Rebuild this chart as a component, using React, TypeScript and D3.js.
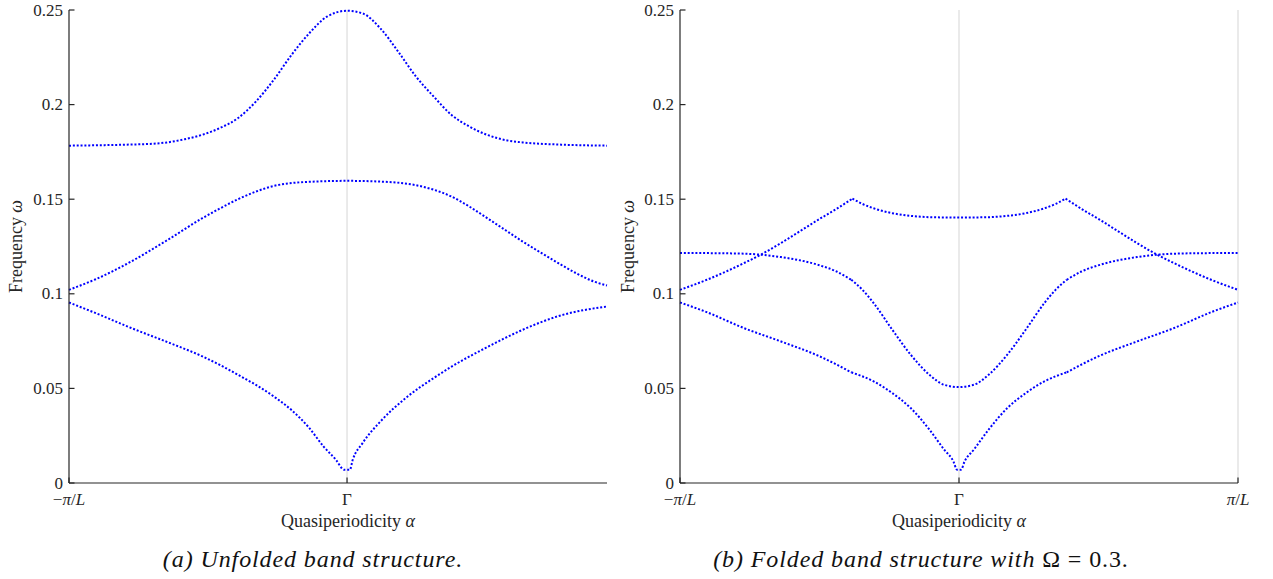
import React from "react";
import * as d3 from "d3";

// ---------- data (alpha in units of pi/L, Gamma = 0) ----------
const yTicks = [0, 0.05, 0.1, 0.15, 0.2, 0.25];
const yTickLabels = ["0", "0.05", "0.1", "0.15", "0.2", "0.25"];

// Panel (a): unfolded band structure
const alphaA1 = [-1, -0.904, -0.776, -0.648, -0.52, -0.392, -0.264, -0.2, -0.136, -0.085, -0.04, -0.01, 0.01, 0.0205, 0.056, 0.12, 0.216, 0.312, 0.376, 0.504, 0.632, 0.76, 0.935];
const freqA1 = [0.0954, 0.0898, 0.0819, 0.0746, 0.0669, 0.0572, 0.0458, 0.0386, 0.0291, 0.0194, 0.0123, 0.007, 0.007, 0.0123, 0.0211, 0.0325, 0.0455, 0.0555, 0.0615, 0.0718, 0.081, 0.0882, 0.0933];

const alphaA2 = [-1, -0.904, -0.776, -0.648, -0.52, -0.456, -0.392, -0.328, -0.264, -0.136, 0, 0.12, 0.248, 0.312, 0.376, 0.44, 0.504, 0.568, 0.632, 0.696, 0.76, 0.824, 0.888, 0.935];
const freqA2 = [0.1021, 0.1077, 0.1171, 0.1282, 0.14, 0.1452, 0.15, 0.154, 0.157, 0.1592, 0.1597, 0.1593, 0.1574, 0.155, 0.1514, 0.1461, 0.14, 0.1338, 0.1276, 0.1218, 0.1162, 0.1109, 0.1065, 0.1044];

const alphaA3 = [-1, -0.776, -0.712, -0.648, -0.584, -0.52, -0.456, -0.392, -0.328, -0.264, -0.2, -0.136, -0.072, 0, 0.056, 0.12, 0.184, 0.248, 0.312, 0.376, 0.44, 0.504, 0.568, 0.632, 0.76, 0.935];
const freqA3 = [0.1783, 0.1789, 0.1792, 0.18, 0.1817, 0.1841, 0.1877, 0.1929, 0.2016, 0.213, 0.2262, 0.2377, 0.2465, 0.2496, 0.2482, 0.2403, 0.228, 0.2148, 0.2042, 0.1945, 0.1884, 0.184, 0.1813, 0.18, 0.1789, 0.1783];

// Panel (b): folded band structure, Omega = 0.3
const alphaB1 = [-1, -0.904, -0.771, -0.638, -0.505, -0.386, -0.306, -0.239, -0.173, -0.106, -0.053, -0.02, -0.007, 0.007, 0.02, 0.053, 0.106, 0.173, 0.239, 0.306, 0.386, 0.505, 0.638, 0.771, 0.904, 1];
const freqB1 = [0.0954, 0.0903, 0.0819, 0.0748, 0.0673, 0.0585, 0.0537, 0.0475, 0.0396, 0.0282, 0.0176, 0.0114, 0.007, 0.007, 0.0114, 0.0176, 0.0282, 0.0396, 0.0475, 0.0537, 0.0585, 0.0673, 0.0748, 0.0819, 0.0903, 0.0954];
const kinksB1 = [-0.386, 0.386];

const alphaB2 = [-1, -0.904, -0.771, -0.705, -0.638, -0.505, -0.439, -0.386, -0.346, -0.306, -0.239, -0.173, -0.106, -0.053, 0, 0.053, 0.106, 0.173, 0.239, 0.306, 0.346, 0.386, 0.439, 0.505, 0.638, 0.705, 0.771, 0.904, 1];
const freqB2 = [0.1215, 0.1215, 0.1212, 0.1206, 0.1194, 0.1153, 0.1118, 0.1074, 0.1021, 0.0951, 0.081, 0.0678, 0.0572, 0.0519, 0.0507, 0.0519, 0.0572, 0.0678, 0.081, 0.0951, 0.1021, 0.1074, 0.1118, 0.1153, 0.1194, 0.1206, 0.1212, 0.1215, 0.1215];
const kinksB2 = [-0.386, 0.386];

const alphaB3 = [-1, -0.904, -0.771, -0.705, -0.638, -0.572, -0.505, -0.439, -0.382, -0.346, -0.306, -0.239, -0.173, -0.106, 0, 0.106, 0.173, 0.239, 0.306, 0.346, 0.382, 0.439, 0.505, 0.572, 0.638, 0.705, 0.771, 0.904, 1];
const freqB3 = [0.1021, 0.1074, 0.1162, 0.1211, 0.1268, 0.1329, 0.1391, 0.1449, 0.1503, 0.1475, 0.1452, 0.1426, 0.1412, 0.1405, 0.1403, 0.1405, 0.1412, 0.1426, 0.1452, 0.1475, 0.1503, 0.1449, 0.1391, 0.1329, 0.1268, 0.1211, 0.1162, 0.1074, 0.1021];
const kinksB3 = [-0.382, 0.382];

type Band = { alpha: number[]; freq: number[]; kinks?: number[] };

const bandsA: Band[] = [
  { alpha: alphaA1, freq: freqA1 },
  { alpha: alphaA2, freq: freqA2 },
  { alpha: alphaA3, freq: freqA3 },
];
const bandsB: Band[] = [
  { alpha: alphaB1, freq: freqB1, kinks: kinksB1 },
  { alpha: alphaB2, freq: freqB2, kinks: kinksB2 },
  { alpha: alphaB3, freq: freqB3, kinks: kinksB3 },
];

const FONT = "Liberation Serif, Times New Roman, DejaVu Serif, serif";
const AX = "#262626";

function splitAtKinks(pts: [number, number][], kinks?: number[]) {
  if (!kinks || kinks.length === 0) return [pts];
  const segs: [number, number][][] = [];
  let cur: [number, number][] = [];
  pts.forEach((p) => {
    cur.push(p);
    if (cur.length > 1 && kinks.some((k) => Math.abs(k - p[0]) < 1e-9)) {
      segs.push(cur);
      cur = [p];
    }
  });
  if (cur.length > 1) segs.push(cur);
  return segs;
}

function PiL({ neg }: { neg: boolean }) {
  return (
    <>
      {neg ? <tspan>−</tspan> : null}
      <tspan style={{ fontStyle: "italic" }}>π</tspan>
      <tspan>/</tspan>
      <tspan style={{ fontStyle: "italic" }}>L</tspan>
    </>
  );
}

type PanelProps = {
  x0: number;
  x1: number;
  domainMax: number;
  bands: Band[];
  xTicks: number[];
  xTickKinds: string[];
  xLabelX: number;
  yLabelX: number;
};

function Panel({ x0, x1, domainMax, bands, xTicks, xTickKinds, xLabelX, yLabelX }: PanelProps) {
  const yTop = 10;
  const yBot = 483;
  const x = d3.scaleLinear().domain([-1, domainMax]).range([x0, x1]);
  const y = d3.scaleLinear().domain([0, 0.25]).range([yBot, yTop]);
  const line = d3
    .line<[number, number]>()
    .x((d) => x(d[0]))
    .y((d) => y(d[1]))
    .curve(d3.curveMonotoneX);

  return (
    <g>
      {xTicks
        .filter((t) => t !== -1)
        .map((t) => (
          <line key={"g" + t} x1={x(t)} x2={x(t)} y1={yTop} y2={yBot} stroke="#e3e3e3" strokeWidth={1.5} />
        ))}
      {bands.map((b, i) => {
        const pts: [number, number][] = b.alpha.map((a, j) => [a, b.freq[j]]);
        return splitAtKinks(pts, b.kinks).map((seg, k) => (
          <path
            key={"b" + i + "_" + k}
            d={line(seg) || ""}
            fill="none"
            stroke="#0000ff"
            strokeWidth={2}
            strokeDasharray="2 1.85"
          />
        ));
      })}
      <line x1={x0} x2={x0} y1={yTop} y2={yBot} stroke={AX} strokeWidth={1.2} />
      <line x1={x0} x2={x1} y1={yBot} y2={yBot} stroke={AX} strokeWidth={1.2} />
      {yTicks.map((t, i) => (
        <g key={"yt" + t}>
          <line x1={x0} x2={x0 + 5.5} y1={y(t)} y2={y(t)} stroke={AX} strokeWidth={1.2} />
          <text x={x0 - 6} y={y(t) + 5.5} textAnchor="end" fontSize={17} fill={AX}>
            {yTickLabels[i]}
          </text>
        </g>
      ))}
      {xTicks.map((t, i) => (
        <g key={"xt" + t}>
          <line x1={x(t)} x2={x(t)} y1={yBot} y2={yBot - 5.5} stroke={AX} strokeWidth={1.2} />
          <text x={x(t)} y={505} textAnchor="middle" fontSize={17} fill={AX}>
            {xTickKinds[i] === "neg" ? <PiL neg={true} /> : xTickKinds[i] === "pos" ? <PiL neg={false} /> : "Γ"}
          </text>
        </g>
      ))}
      <text x={xLabelX} y={527} textAnchor="middle" fontSize={18} fill={AX}>
        Quasiperiodicity <tspan style={{ fontStyle: "italic" }}>α</tspan>
      </text>
      <text
        transform={`translate(${yLabelX},${(yTop + yBot) / 2}) rotate(-90)`}
        textAnchor="middle"
        fontSize={18}
        fill={AX}
      >
        Frequency <tspan style={{ fontStyle: "italic" }}>ω</tspan>
      </text>
    </g>
  );
}

export default function App() {
  return (
    <svg
      width={1273}
      height={579}
      style={{ position: "absolute", left: 0, top: 0, background: "#fff", fontFamily: FONT }}
    >
      <rect width={1273} height={579} fill="#fff" />
      <Panel
        x0={69}
        x1={607}
        domainMax={0.935}
        bands={bandsA}
        xTicks={[-1, 0]}
        xTickKinds={["neg", "gamma"]}
        xLabelX={348}
        yLabelX={22}
      />
      <Panel
        x0={680}
        x1={1238}
        domainMax={1}
        bands={bandsB}
        xTicks={[-1, 0, 1]}
        xTickKinds={["neg", "gamma", "pos"]}
        xLabelX={959}
        yLabelX={634}
      />
      <text x={313} y={567} textAnchor="middle" fontSize={24} letterSpacing={0.9} fill="#111" style={{ fontStyle: "italic" }}>
        (a) Unfolded band structure.
      </text>
      <text x={921} y={567} textAnchor="middle" fontSize={24} letterSpacing={0.9} fill="#111">
        <tspan style={{ fontStyle: "italic" }}>(b) Folded band structure with </tspan>
        <tspan>Ω = 0.3.</tspan>
      </text>
    </svg>
  );
}
